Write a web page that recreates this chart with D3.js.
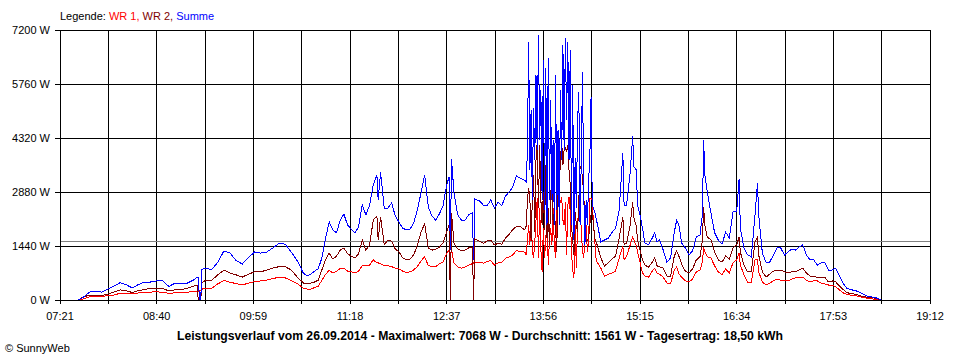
<!DOCTYPE html>
<html>
<head>
<meta charset="utf-8">
<script src="https://cdn.jsdelivr.net/npm/d3@7"></script>
<style>
  body { margin: 0; background: #fff; }
  svg { display: block; font-family: "Liberation Sans", Arial, sans-serif; font-size: 11px; }
</style>
</head>
<body>
<div id="chart"></div>
<script>
// Leistungsdaten 26.09.2014
var times = [
  "07:36","07:40","07:45","07:50","07:55","08:00","08:05","08:10","08:15","08:20","08:25","08:30","08:35","08:40",
  "08:45","08:50","08:55","09:00","09:05","09:10","09:13","09:14","09:15","09:16","09:17","09:20","09:25","09:30",
  "09:35","09:40","09:45","09:50","09:55","10:00","10:05","10:10","10:15","10:20","10:25","10:30","10:35","10:40",
  "10:43","10:46","10:49","10:52","10:55","10:58","11:01","11:04","11:07","11:10","11:13","11:16","11:19","11:22",
  "11:25","11:28","11:31","11:34","11:37","11:40","11:41","11:43","11:46","11:49","11:52","11:55","11:58","12:01",
  "12:04","12:07","12:10","12:13","12:16","12:19","12:22","12:25","12:28","12:31","12:34","12:37","12:39","12:40",
  "12:41","12:43","12:46","12:49","12:52","12:55","12:58","12:59","13:00","13:04","13:07","13:10","13:13","13:16",
  "13:19","13:22","13:25","13:28","13:31","13:34","13:37","13:40",
  "13:41","13:42","13:43","13:44","13:45","13:46","13:47","13:48","13:49","13:50",
  "13:51","13:52","13:53","13:54","13:55","13:56","13:57","13:58","13:59","14:00",
  "14:01","14:02","14:03","14:04","14:05","14:06","14:07","14:08","14:09","14:10",
  "14:11","14:12","14:13","14:14","14:15","14:16","14:17","14:18","14:19","14:20",
  "14:21","14:22","14:23","14:24","14:25","14:26","14:27","14:28","14:29","14:30",
  "14:31","14:32","14:33","14:34","14:35","14:36","14:37","14:38","14:39","14:40",
  "14:43","14:46","14:49","14:52","14:55","14:58","15:01","15:02","15:04","15:07","15:09","15:10","15:12","15:13",
  "15:15","15:17","15:19","15:22","15:25","15:27","15:29","15:31","15:34","15:37","15:40","15:43","15:45","15:47",
  "15:49","15:52","15:55","15:58","16:01","16:04","16:06","16:07","16:08","16:10","16:13","16:16","16:19","16:22",
  "16:25","16:28","16:31","16:34","16:36","16:37","16:40","16:43","16:46","16:49","16:51","16:52","16:55","16:58",
  "17:01","17:04",
  "17:07","17:10","17:13","17:16","17:19","17:22","17:25","17:28","17:31","17:34","17:37","17:40","17:43","17:46",
  "17:49","17:52","17:55","17:58","18:01","18:04","18:07","18:12","18:17","18:22","18:27","18:32"
];

var wr1 = [
  0,30,80,90,90,120,130,180,170,160,190,200,210,220,
  200,180,190,200,210,220,240,240,240,250,290,310,310,430,
  520,470,440,400,450,490,510,530,570,610,590,520,440,310,
  290,290,330,370,520,680,790,720,770,840,850,770,750,720,
  770,920,930,930,1070,990,990,960,920,910,890,850,830,770,
  730,750,800,890,1040,1150,920,890,890,960,1010,1250,1330,1390,
  1330,990,880,850,880,930,970,990,1010,1010,980,1030,1050,930,
  990,1010,1110,1150,1200,1320,1290,1280,
  1280,1200,1600,2000,1470,2350,1330,1120,1550,2130,
  2720,1120,2450,1330,750,1920,1120,1600,2350,930,
  1600,1920,1470,2450,1470,1120,2350,2720,2530,2610,
  2750,2130,2000,2610,1200,2530,2750,2350,1280,800,
  590,2000,850,2080,2400,2720,1810,1330,1120,1600,
  2000,1280,1600,2720,2720,2670,2000,1600,1120,1010,
  850,640,680,720,770,1120,1440,1070,1170,1470,1680,1600,1440,1280,
  1010,720,640,610,770,850,720,690,610,450,430,800,880,690,
  610,510,480,560,750,800,1010,1410,1280,1150,1120,910,750,670,
  830,720,990,1070,1250,930,670,480,480,1070,1070,750,480,400,
  450,510,
  560,530,510,510,560,590,610,610,530,480,510,510,450,430,
  400,400,350,270,190,150,130,110,70,40,20,0
];

var wr2 = [
  0,80,130,130,120,160,210,270,250,200,250,280,310,310,
  310,240,270,280,310,370,400,0,0,0,450,530,530,670,
  800,720,670,610,690,750,750,800,850,890,890,800,610,450,
  440,450,480,530,800,1070,1250,1090,1170,1330,1390,1230,1170,1120,
  1230,1600,1330,1470,2130,2240,1600,2210,1470,1600,1570,1360,1280,1130,
  1080,1090,1200,1450,1810,2030,1390,1330,1350,1410,1520,1820,2000,0,
  2320,1520,1360,1310,1330,1390,1410,0,1630,1560,1510,1570,1600,1470,
  1510,1490,1650,1750,1880,1960,1960,1890,
  1890,1970,2670,2990,2720,1570,2670,3330,1810,3730,
  4210,2450,4130,2670,2000,2880,1870,3600,1650,2450,
  1470,2670,3600,2000,2400,1870,1280,3250,2930,3790,
  4210,3600,4000,4050,3950,4130,3470,3070,2000,1600,
  1200,2350,2000,1810,2670,3520,3600,3200,2880,1870,
  1550,1600,1650,2000,2270,2350,2000,1650,1550,1470,
  1120,910,990,1090,1170,1650,2210,1470,1520,2000,2610,2190,1970,1600,
  1330,1070,930,880,1010,1120,910,880,850,640,640,1170,1310,1150,
  960,770,720,830,1070,1150,1600,2480,2000,1680,1600,1280,1070,1010,
  1170,1090,1390,1470,1680,1280,930,750,750,1550,1680,1200,750,610,
  690,770,
  800,800,750,720,750,750,800,850,720,640,640,590,590,610,
  480,510,480,370,280,200,170,150,90,70,50,0
];

var summe = [
  0,70,210,230,210,290,370,460,410,320,410,480,480,510,
  510,360,450,450,450,530,610,610,0,0,820,850,810,1010,
  1310,1250,1050,960,1130,1280,1250,1280,1390,1510,1490,1280,1040,710,
  640,690,770,830,1120,1650,2080,1870,1790,2130,2290,2000,1890,1790,
  1950,2530,2270,2530,3070,3330,2670,3400,2450,2450,2590,2240,2080,1920,
  1870,1890,2050,2400,2850,3330,2480,2240,2130,2290,2510,3070,3280,1330,
  3750,2850,2270,2130,2130,2270,2320,1070,2690,2640,2530,2510,2670,2450,
  2610,2510,2770,2880,3010,3310,3250,3200,
  3200,3150,4000,6880,3470,5070,2670,5120,3730,6000,
  4000,7068,4270,5600,2670,6400,2400,6190,2000,6450,
  2670,5330,2670,4270,2000,6000,2400,4530,2000,5600,
  3730,6800,4000,6990,4800,6880,3730,6670,2000,5730,
  1600,3790,2450,4800,5550,2000,3730,6080,2880,1470,
  2670,2000,3200,3790,5410,2530,2450,2350,2190,2050,
  1550,1600,1650,1790,1920,2400,3920,2530,2530,3410,4370,3550,3470,2530,
  2270,1920,1520,1470,1650,1790,1550,1600,1330,1010,1120,1810,2130,1970,
  1520,1390,1200,1310,1680,1730,2270,4270,3330,2880,2320,1790,1600,1490,
  1810,1650,2350,2350,3230,1920,1390,1200,1150,2270,3120,2270,1250,1010,
  1010,1200,
  1390,1390,1200,1280,1360,1330,1410,1470,1200,1070,1070,930,990,1010,
  800,800,850,640,450,310,280,240,160,90,70,0
];

var xLabels = ["07:21","08:40","09:59","11:18","12:37","13:56","15:15","16:34","17:53","19:12"];
var yTicks = [0, 1440, 2880, 4320, 5760, 7200];
var average = 1561;
var title = "Leistungsverlauf vom 26.09.2014 - Maximalwert: 7068 W - Durchschnitt: 1561 W - Tagesertrag: 18,50 kWh";

var w = 960, h = 360;
var margin = {top: 30, right: 30, bottom: 60, left: 60};

var parse = d3.timeParse("%H:%M");

var svg = d3.select("#chart").append("svg")
  .attr("width", w)
  .attr("height", h)
  .style("shape-rendering", "crispEdges");

svg.append("rect").attr("width", w).attr("height", h).attr("fill", "#fff");

var x = d3.scaleTime()
  .domain([parse(xLabels[0]), parse(xLabels[xLabels.length - 1])])
  .range([margin.left, w - margin.right]);
var y = d3.scaleLinear()
  .domain([0, 7200])
  .range([h - margin.bottom, margin.top]);

// grid: labelled ticks plus one line half way between them
var xGrid = [];
xLabels.forEach(function(l, i) {
  var px = x(parse(l));
  xGrid.push(px);
  if (i < xLabels.length - 1) xGrid.push((px + x(parse(xLabels[i + 1]))) / 2);
});

svg.append("g").selectAll("line.v")
  .data(xGrid).enter().append("line")
  .attr("x1", function(d) { return d; })
  .attr("x2", function(d) { return d; })
  .attr("y1", y(7200))
  .attr("y2", y(0) + 4)
  .attr("stroke", "#000");

svg.append("g").selectAll("line.h")
  .data(yTicks).enter().append("line")
  .attr("x1", x.range()[0] - 5)
  .attr("x2", x.range()[1])
  .attr("y1", function(d) { return y(d); })
  .attr("y2", function(d) { return y(d); })
  .attr("stroke", "#000");

// average line
svg.append("line")
  .attr("x1", x.range()[0]).attr("x2", x.range()[1])
  .attr("y1", y(average)).attr("y2", y(average))
  .attr("stroke", "#808080");

// series
var series = [
  {values: wr1, color: "#ff0000"},
  {values: wr2, color: "#800000"},
  {values: summe, color: "#0000ff"}
];

var line = d3.line()
  .x(function(d) { return x(d.t); })
  .y(function(d) { return y(d.v); });

series.forEach(function(s) {
  var pts = times.map(function(t, i) { return {t: parse(t), v: s.values[i]}; });
  svg.append("path")
    .datum(pts)
    .attr("d", line)
    .attr("fill", "none")
    .attr("stroke", s.color)
    .attr("stroke-width", 1);
});

// axes on top
svg.append("line")
  .attr("x1", x.range()[0]).attr("x2", x.range()[0])
  .attr("y1", y(7200)).attr("y2", y(0))
  .attr("stroke", "#000");
svg.append("line")
  .attr("x1", x.range()[0] - 5).attr("x2", x.range()[1])
  .attr("y1", y(0)).attr("y2", y(0))
  .attr("stroke", "#000");

// labels
svg.append("g").selectAll("text")
  .data(yTicks).enter().append("text")
  .attr("x", x.range()[0] - 10)
  .attr("y", function(d) { return y(d); })
  .attr("dy", "0.35em")
  .attr("text-anchor", "end")
  .attr("fill", "#000")
  .text(function(d) { return d + " W"; });

svg.append("g").selectAll("text")
  .data(xLabels).enter().append("text")
  .attr("x", function(d) { return x(parse(d)); })
  .attr("y", 320)
  .attr("text-anchor", "middle")
  .attr("fill", "#000")
  .text(function(d) { return d; });

svg.append("text")
  .attr("x", 480)
  .attr("y", 340)
  .attr("text-anchor", "middle")
  .attr("font-weight", "bold")
  .attr("font-size", "12px")
  .attr("textLength", 606)
  .attr("lengthAdjust", "spacingAndGlyphs")
  .attr("fill", "#000")
  .text(title);

svg.append("text")
  .attr("x", 5)
  .attr("y", 352)
  .attr("fill", "#000")
  .text("\u00a9 SunnyWeb");

// legend
var legend = svg.append("text").attr("x", 60).attr("y", 20);
legend.append("tspan").attr("fill", "#000").text("Legende: ");
legend.append("tspan").attr("fill", "#ff0000").text("WR 1, ");
legend.append("tspan").attr("fill", "#800000").text("WR 2, ");
legend.append("tspan").attr("fill", "#0000ff").text("Summe");
</script>
</body>
</html>
